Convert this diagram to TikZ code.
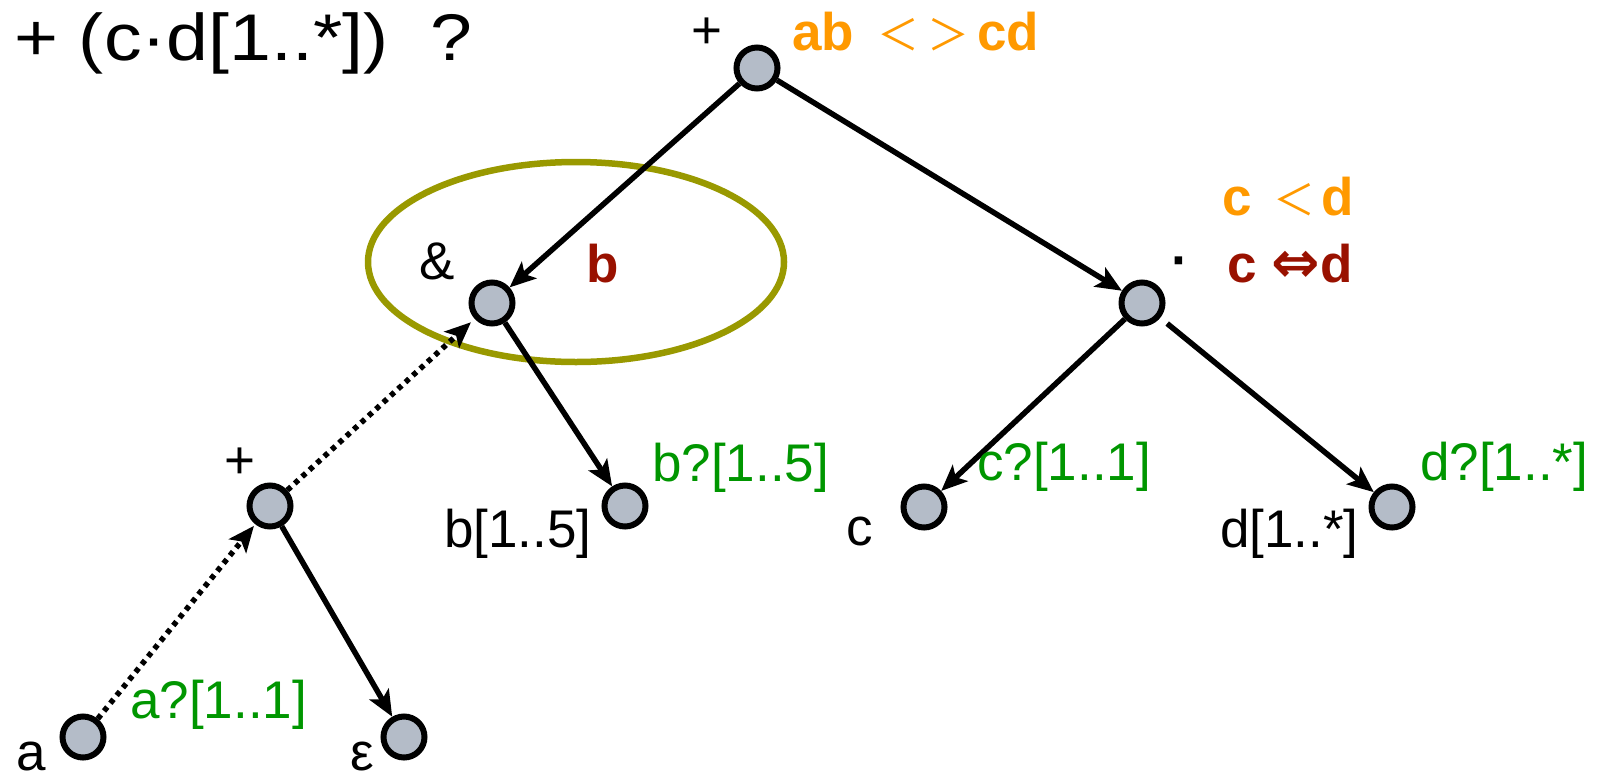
\documentclass[tikz,border=0pt]{standalone}
\usepackage{fontspec}
\setmainfont{Liberation Sans}
\newfontfamily\titlefont[FakeStretch=1.14]{Liberation Sans}
\newfontfamily\cjk{Noto Sans CJK SC}
\newfontfamily\djv{DejaVu Sans}
\usetikzlibrary{arrows.meta}
\definecolor{nodefill}{RGB}{180,188,200}
\definecolor{orng}{RGB}{255,153,0}
\definecolor{dred}{RGB}{153,17,0}
\definecolor{grn}{RGB}{0,150,0}
\definecolor{olv}{RGB}{153,153,0}
\tikzset{
  tnode/.style={circle,draw=black,fill=nodefill,line width=6pt,minimum size=41pt,inner sep=0pt},
  edge/.style={line width=5.5pt,-{Stealth[length=26pt,width=22pt,inset=6pt]}},
  dotedge/.style={edge,dash pattern=on 5pt off 5pt},
  lbl/.style={inner sep=0pt,font=\fontsize{53pt}{62pt}\selectfont},
  bwl/.style={lbl,anchor=base west}
}
\newcommand{\lt}{{\mdseries\fontsize{42pt}{50pt}\cjk ＜}}
\newcommand{\gt}{{\mdseries\fontsize{42pt}{50pt}\cjk ＞}}
\begin{document}
\begin{tikzpicture}[x=1pt,y=-1pt]
\useasboundingbox (0,0) rectangle (1611,782);
% ellipse highlight
\draw[olv,line width=6.5pt] (576,262) ellipse [x radius=208pt, y radius=100pt];
% tree nodes
\node[tnode] (root) at (757,68) {};
\node[tnode] (amp) at (492,303) {};
\node[tnode] (dot) at (1142,303) {};
\node[tnode] (plus) at (270,506) {};
\node[tnode] (bn) at (625,506) {};
\node[tnode] (cn) at (924,507) {};
\node[tnode] (dn) at (1392,507) {};
\node[tnode] (an) at (83,737) {};
\node[tnode] (en) at (404,737) {};
% connectors
\draw[edge] (root) -- (amp);
\draw[edge] (root) -- (dot);
\draw[edge] (amp) -- (bn);
\draw[edge] (dot) -- (cn);
\draw[edge,shorten <=9pt] (dot) -- (dn);
\draw[dotedge,shorten >=5pt] (plus) -- (amp);
\draw[dotedge,shorten >=2pt] (an) -- (plus);
\draw[edge] (plus) -- (en);
% title
\node[inner sep=0pt,anchor=base west,font=\fontsize{66pt}{78pt}\titlefont] (title) at (14,60) {+ (c·d[1..*])\ \ ?};
% operator labels
\node[lbl] (lroot) at (707,33) {+};
\node[lbl] (lamp) at (437,261) {\&};
\node[lbl,anchor=base,font=\fontsize{53pt}{62pt}\bfseries] (ldot) at (1180,278) {·};
\node[lbl] (lplus) at (240,463) {+};
% constraint labels
\node[bwl,text=orng] (abcd) at (792,50) {\bfseries ab\hspace{23pt}\lt\hspace{8pt}\gt\hspace{8pt}cd};
\node[bwl,text=orng] (cltd) at (1222,215) {\bfseries c\hspace{22pt}\lt\hspace{6pt}d};
\node[bwl,text=dred] (ciffd) at (1227,282) {\bfseries c {\djv\bfseries\fontsize{58pt}{62pt}\selectfont ⇔}d};
\node[bwl,text=dred] (lb) at (586,282) {\bfseries b};
% leaf labels
\node[bwl] (lbn) at (444,547) {b[1..5]};
\node[bwl,text=grn] (gbn) at (652,481) {b?[1..5]};
\node[bwl] (lcn) at (846,545) {c};
\node[bwl,text=grn] (gcn) at (977,480) {c?[1..1]};
\node[bwl] (ldn) at (1220,547) {d[1..*]};
\node[bwl,text=grn] (gdn) at (1420,480) {d?[1..*]};
\node[bwl] (lan) at (16,770) {a};
\node[bwl,text=grn] (gan) at (130,718) {a?[1..1]};
\node[bwl] (len) at (350,770) {ε};
\end{tikzpicture}
\end{document}
